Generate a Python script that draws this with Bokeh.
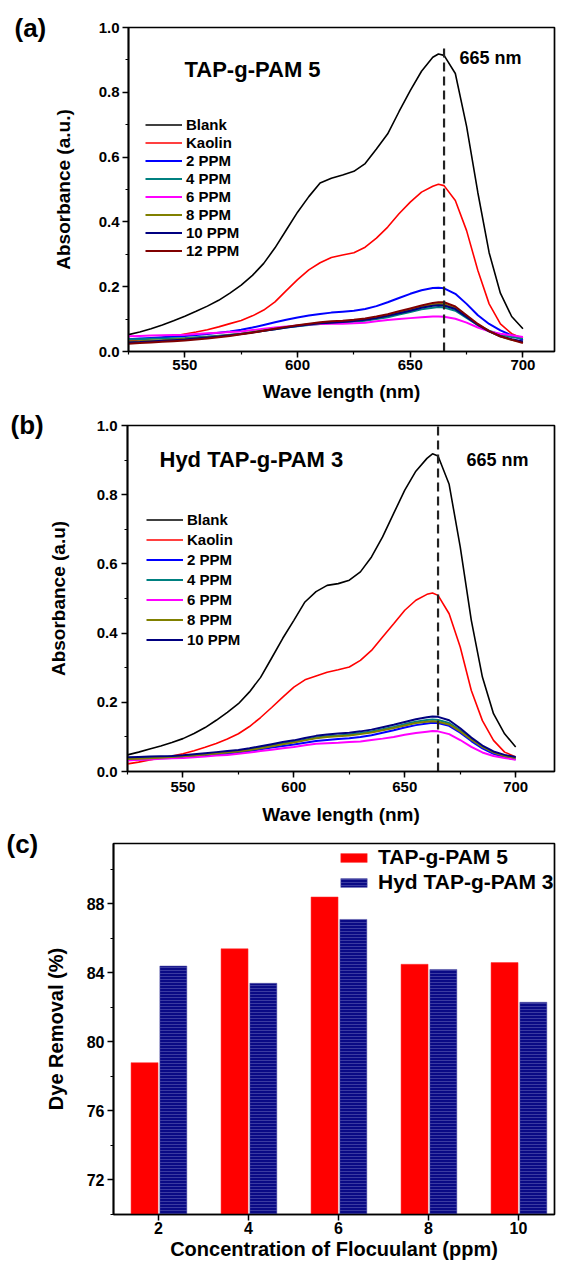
from bokeh.plotting import figure
from bokeh.models import (ColumnDataSource, Range1d, SingleIntervalTicker,
                          PrintfTickFormatter, Legend, LegendItem, Label)
from bokeh.transform import dodge
from bokeh.embed import file_html
from bokeh.resources import INLINE

FONT = "Liberation Sans"

# ---------------- data ----------------
wavelength = [525, 530, 535, 540, 545, 550, 555, 560, 565, 570, 575, 580, 585, 590,
              595, 600, 605, 610, 615, 620, 625, 630, 635, 640, 645, 650, 655, 660,
              662.5, 665, 670, 675, 680, 685, 690, 695, 700]

# panel (a) TAP-g-PAM 5
a_blank = [0.052, 0.060, 0.070, 0.082, 0.095, 0.109, 0.124, 0.140, 0.158, 0.180, 0.205, 0.235,
           0.272, 0.320, 0.375, 0.430, 0.478, 0.520, 0.535, 0.545, 0.556, 0.580, 0.625, 0.672,
           0.740, 0.805, 0.865, 0.908, 0.918, 0.914, 0.858, 0.695, 0.490, 0.305, 0.180, 0.108, 0.070]
a_kaolin = [0.033, 0.036, 0.040, 0.043, 0.048, 0.054, 0.060, 0.067, 0.076, 0.086, 0.096, 0.110,
            0.128, 0.153, 0.188, 0.222, 0.252, 0.274, 0.290, 0.298, 0.305, 0.322, 0.350, 0.384,
            0.425, 0.461, 0.492, 0.510, 0.516, 0.512, 0.466, 0.373, 0.250, 0.147, 0.085, 0.055, 0.040]
a_2ppm = [0.038, 0.040, 0.042, 0.044, 0.046, 0.048, 0.051, 0.054, 0.058, 0.062, 0.067, 0.074,
          0.082, 0.090, 0.098, 0.105, 0.111, 0.116, 0.120, 0.123, 0.126, 0.131, 0.140, 0.152,
          0.165, 0.178, 0.189, 0.196, 0.197, 0.195, 0.178, 0.147, 0.112, 0.085, 0.065, 0.050, 0.036]
a_4ppm = [0.038, 0.038, 0.039, 0.040, 0.041, 0.042, 0.044, 0.046, 0.049, 0.052, 0.055, 0.059,
          0.064, 0.069, 0.074, 0.078, 0.082, 0.085, 0.088, 0.090, 0.092, 0.095, 0.100, 0.106,
          0.114, 0.122, 0.130, 0.135, 0.137, 0.136, 0.126, 0.104, 0.081, 0.064, 0.052, 0.045, 0.040]
a_6ppm = [0.047, 0.048, 0.049, 0.050, 0.051, 0.052, 0.054, 0.056, 0.058, 0.060, 0.062, 0.066,
          0.070, 0.074, 0.077, 0.080, 0.083, 0.085, 0.086, 0.086, 0.087, 0.089, 0.093, 0.097,
          0.100, 0.103, 0.106, 0.108, 0.108, 0.107, 0.101, 0.089, 0.074, 0.062, 0.055, 0.050, 0.045]
a_8ppm = [0.031, 0.032, 0.034, 0.035, 0.037, 0.039, 0.041, 0.044, 0.047, 0.051, 0.055, 0.060,
          0.065, 0.070, 0.075, 0.080, 0.084, 0.087, 0.090, 0.092, 0.095, 0.099, 0.104, 0.111,
          0.120, 0.129, 0.138, 0.145, 0.147, 0.146, 0.134, 0.109, 0.083, 0.062, 0.046, 0.036, 0.029]
a_10ppm = [0.028, 0.029, 0.031, 0.033, 0.035, 0.037, 0.040, 0.043, 0.046, 0.050, 0.054, 0.059,
           0.064, 0.069, 0.074, 0.079, 0.083, 0.087, 0.089, 0.091, 0.094, 0.098, 0.103, 0.110,
           0.118, 0.126, 0.135, 0.141, 0.143, 0.142, 0.131, 0.107, 0.082, 0.062, 0.047, 0.038, 0.031]
a_12ppm = [0.024, 0.026, 0.028, 0.030, 0.032, 0.034, 0.037, 0.040, 0.044, 0.048, 0.053, 0.058,
           0.064, 0.070, 0.076, 0.081, 0.086, 0.090, 0.093, 0.095, 0.098, 0.102, 0.108, 0.115,
           0.124, 0.133, 0.142, 0.150, 0.152, 0.152, 0.139, 0.112, 0.085, 0.063, 0.047, 0.036, 0.026]

# panel (b) Hyd TAP-g-PAM 3
b_blank = [0.048, 0.056, 0.065, 0.074, 0.084, 0.095, 0.110, 0.127, 0.148, 0.171, 0.196, 0.230,
           0.272, 0.328, 0.385, 0.437, 0.490, 0.520, 0.538, 0.543, 0.553, 0.577, 0.620, 0.678,
           0.746, 0.813, 0.868, 0.905, 0.918, 0.912, 0.830, 0.649, 0.437, 0.273, 0.167, 0.109, 0.071]
b_kaolin = [0.022, 0.027, 0.033, 0.039, 0.045, 0.051, 0.060, 0.070, 0.081, 0.094, 0.109, 0.130,
            0.156, 0.185, 0.215, 0.244, 0.265, 0.276, 0.287, 0.294, 0.302, 0.321, 0.350, 0.389,
            0.427, 0.466, 0.495, 0.512, 0.516, 0.509, 0.456, 0.360, 0.234, 0.147, 0.090, 0.056, 0.042]
b_2ppm = [0.034, 0.035, 0.036, 0.038, 0.039, 0.041, 0.043, 0.046, 0.049, 0.052, 0.055, 0.059,
          0.064, 0.069, 0.074, 0.078, 0.083, 0.088, 0.091, 0.094, 0.096, 0.100, 0.105, 0.112,
          0.119, 0.127, 0.134, 0.139, 0.141, 0.140, 0.132, 0.112, 0.088, 0.067, 0.051, 0.041, 0.035]
b_4ppm = [0.038, 0.039, 0.040, 0.041, 0.043, 0.045, 0.047, 0.050, 0.053, 0.056, 0.059, 0.064,
          0.069, 0.075, 0.081, 0.086, 0.092, 0.098, 0.102, 0.104, 0.107, 0.111, 0.116, 0.122,
          0.129, 0.137, 0.144, 0.149, 0.150, 0.149, 0.140, 0.119, 0.094, 0.072, 0.056, 0.046, 0.040]
b_6ppm = [0.032, 0.034, 0.035, 0.037, 0.038, 0.039, 0.041, 0.043, 0.046, 0.048, 0.051, 0.055,
          0.059, 0.063, 0.067, 0.071, 0.076, 0.080, 0.082, 0.083, 0.085, 0.087, 0.091, 0.095,
          0.100, 0.106, 0.111, 0.115, 0.117, 0.116, 0.108, 0.091, 0.071, 0.055, 0.045, 0.039, 0.034]
b_8ppm = [0.036, 0.037, 0.038, 0.040, 0.042, 0.044, 0.046, 0.049, 0.052, 0.055, 0.058, 0.062,
          0.067, 0.073, 0.079, 0.084, 0.090, 0.096, 0.100, 0.102, 0.104, 0.108, 0.113, 0.119,
          0.126, 0.133, 0.140, 0.144, 0.145, 0.144, 0.136, 0.116, 0.092, 0.071, 0.055, 0.045, 0.039]
b_10ppm = [0.041, 0.042, 0.043, 0.044, 0.045, 0.047, 0.050, 0.053, 0.056, 0.059, 0.062, 0.067,
           0.073, 0.079, 0.085, 0.090, 0.097, 0.103, 0.107, 0.110, 0.112, 0.116, 0.121, 0.128,
           0.135, 0.143, 0.151, 0.157, 0.159, 0.158, 0.148, 0.125, 0.098, 0.075, 0.058, 0.048, 0.042]

a_labels = ["Blank", "Kaolin", "2 PPM", "4 PPM", "6 PPM", "8 PPM", "10 PPM", "12 PPM"]
b_labels = ["Blank", "Kaolin", "2 PPM", "4 PPM", "6 PPM", "8 PPM", "10 PPM"]
curve_colors = ["#000000", "#FF0000", "#0000FF", "#008080", "#FF00FF", "#808000", "#000080", "#800000"]

peak_nm = 665
peak_line_top_a = 0.945
peak_line_top_b = 1.0

# panel (c)
concentration = [2, 4, 6, 8, 10]
removal_tap = [78.8, 85.4, 88.4, 84.5, 84.6]
removal_hyd = [84.4, 83.4, 87.1, 84.2, 82.3]
bar_names = ["TAP-g-PAM 5", "Hyd TAP-g-PAM 3"]
bar_floor = 70


# ---------------- helpers ----------------
def style_axes(p, tick_size, title_size, x_standoff, x_label_standoff,
               y_standoff, y_label_standoff):
    p.grid.visible = False
    p.outline_line_color = "black"
    p.outline_line_width = 1.7
    p.outline_line_alpha = 1.0
    p.background_fill_color = "white"
    p.border_fill_color = "white"
    for ax in (p.xaxis[0], p.yaxis[0]):
        ax.axis_line_width = 1.7
        ax.axis_line_color = "black"
        ax.major_tick_line_width = 1.5
        ax.minor_tick_line_width = 1.2
        ax.major_tick_out = 6
        ax.major_tick_in = 0
        ax.minor_tick_out = 3
        ax.minor_tick_in = 0
        ax.major_label_text_font = FONT
        ax.major_label_text_font_style = "bold"
        ax.major_label_text_font_size = tick_size
        ax.major_label_text_color = "black"
        ax.axis_label_text_font = FONT
        ax.axis_label_text_font_style = "bold"
        ax.axis_label_text_font_size = title_size
        ax.axis_label_text_color = "black"
    p.xaxis[0].major_label_standoff = x_standoff
    p.xaxis[0].axis_label_standoff = x_label_standoff
    p.yaxis[0].major_label_standoff = y_standoff
    p.yaxis[0].axis_label_standoff = y_label_standoff


def text_label(p, x, y, text, size, place="center"):
    lab = Label(x=x, y=y, x_units="screen", y_units="screen", text=text,
                text_font=FONT, text_font_style="bold", text_font_size=size,
                text_color="black", text_align="left", text_baseline="middle")
    if place == "center":
        p.add_layout(lab)
    else:
        p.add_layout(lab, place)


def spectra_fig(height, bl, bt, bb, xmax, series, labels, dash_top, ylab,
                legend_loc, leg_h, x_st, x_lst, y_st, y_lst):
    p = figure(width=556, height=height, x_range=Range1d(525, xmax), y_range=Range1d(0, 1.0),
               output_backend="svg", toolbar_location=None, title=None,
               min_border_left=bl, min_border_right=2, min_border_top=bt, min_border_bottom=bb)
    style_axes(p, "15px", "19px", x_st, x_lst, y_st, y_lst)
    p.xaxis[0].ticker = SingleIntervalTicker(interval=50, num_minor_ticks=2)
    p.yaxis[0].ticker = SingleIntervalTicker(interval=0.2, num_minor_ticks=2)
    p.yaxis[0].formatter = PrintfTickFormatter(format="%.1f")
    p.xaxis[0].axis_label = "Wave length (nm)"
    p.yaxis[0].axis_label = ylab
    src = ColumnDataSource(dict(wl=wavelength, **{f"s{i}": s for i, s in enumerate(series)}))
    items = []
    for i, lab in enumerate(labels):
        lw = 1.6 if i < 2 else 2.0
        r = p.line("wl", f"s{i}", source=src, line_color=curve_colors[i], line_width=lw)
        items.append(LegendItem(label=lab, renderers=[r]))
    p.line([peak_nm, peak_nm], [0, dash_top], line_color="#222222", line_width=2.2,
           line_dash="9 5")
    leg = Legend(items=items, location=legend_loc, orientation="vertical", padding=0,
                 spacing=1, margin=0, glyph_width=37, glyph_height=leg_h, label_height=leg_h,
                 label_standoff=4, border_line_alpha=0, background_fill_alpha=0,
                 label_text_font=FONT, label_text_font_style="bold",
                 label_text_font_size="15px", label_text_color="black")
    p.add_layout(leg)
    return p


# ---------------- panel (a) ----------------
pa = spectra_fig(408, 128, 27, 57, 714,
                 [a_blank, a_kaolin, a_2ppm, a_4ppm, a_6ppm, a_8ppm, a_10ppm, a_12ppm],
                 a_labels, peak_line_top_a, "Absorbance (a.u.)", (17, 92), 17,
                 2, 8, 3, 22)
text_label(pa, -3, 323.5, "(a)", "26px", "left")
text_label(pa, 56, 282, "TAP-g-PAM 5", "22px")
text_label(pa, 331, 294, "665 nm", "18px")

# ---------------- panel (b) ----------------
pb = spectra_fig(422, 127, 17, 59, 717.5,
                 [b_blank, b_kaolin, b_2ppm, b_4ppm, b_6ppm, b_8ppm, b_10ppm],
                 b_labels, peak_line_top_b, "Absorbance (a.u)", (19, 122), 19,
                 4, 9, 4, 25)
text_label(pb, -1, 347, "(b)", "26px", "left")
text_label(pb, 32, 312, "Hyd TAP-g-PAM 3", "22px")
text_label(pb, 339, 312, "665 nm", "18px")

# ---------------- panel (c) ----------------
pc = figure(width=556, height=433, x_range=Range1d(1, 10.8), y_range=Range1d(70, 91.5),
            output_backend="svg", toolbar_location=None, title=None,
            min_border_left=113, min_border_right=2, min_border_top=13, min_border_bottom=49)
style_axes(pc, "16px", "20px", 1, 1, 3, 17)
pc.xaxis[0].ticker = SingleIntervalTicker(interval=2, num_minor_ticks=0)
pc.yaxis[0].ticker = SingleIntervalTicker(interval=4, num_minor_ticks=2)
pc.xaxis[0].axis_label = "Concentration of Flocuulant (ppm)"
pc.yaxis[0].axis_label = "Dye Removal (%)"

csrc = ColumnDataSource(dict(conc=concentration, tap=removal_tap, hyd=removal_hyd,
                             floor=[bar_floor] * len(concentration)))
r1 = pc.vbar(x=dodge("conc", -0.31), top="tap", bottom="floor", width=0.6, source=csrc,
             fill_color="#FF0000", line_color="#FF3030", line_width=0.5)
r2 = pc.vbar(x=dodge("conc", 0.33), top="hyd", bottom="floor", width=0.6, source=csrc,
             fill_color="#0A0A85", line_color="#5a5aa8", line_width=0.5,
             hatch_pattern="horizontal_line", hatch_color="#8c8cd0", hatch_alpha=0.55,
             hatch_scale=3, hatch_weight=0.7)
legc = Legend(items=[LegendItem(label=bar_names[0], renderers=[r1]),
                     LegendItem(label=bar_names[1], renderers=[r2])],
              location=(224, 320), orientation="vertical", padding=0, spacing=1, margin=0,
              glyph_width=33, glyph_height=11, label_height=23, label_standoff=8,
              border_line_alpha=0, background_fill_alpha=0,
              label_text_font=FONT, label_text_font_style="bold",
              label_text_font_size="21px", label_text_color="black")
pc.add_layout(legc)
text_label(pc, -3, 371, "(c)", "26px", "left")

open("out.html", "w").write(file_html([pa, pb, pc], INLINE))
